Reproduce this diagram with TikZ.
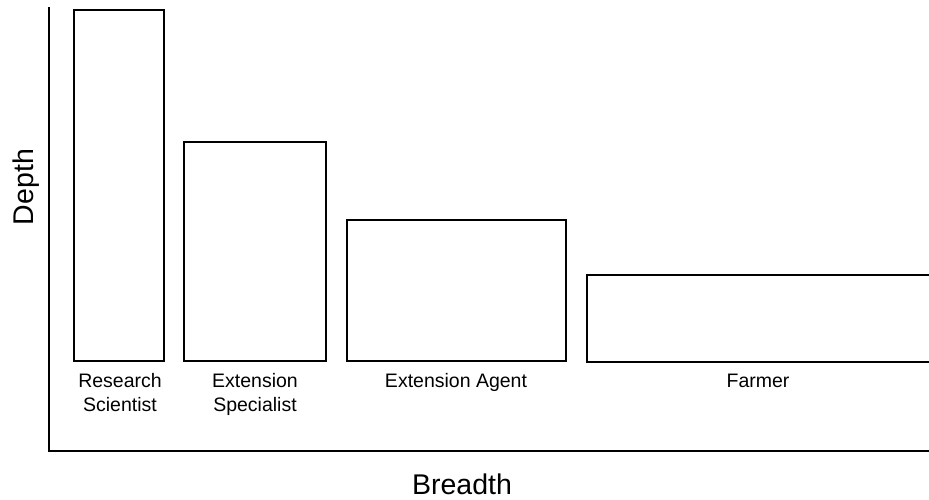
\documentclass[tikz,border=0pt]{standalone}
\usepackage{fontspec}
\setmainfont{Liberation Sans}
\begin{document}
\begin{tikzpicture}[x=1pt,y=-1pt,
  bar/.style={draw=black, line width=1.5pt},
  axis/.style={draw=black, line width=2.8pt},
  barlabel/.style={font=\fontsize{19.5}{24}\selectfont, inner sep=0pt, anchor=base},
  axislabel/.style={font=\fontsize{28.5}{32}\selectfont, inner sep=0pt}]
  \useasboundingbox (0,0) rectangle (929,499);
  \begin{scope}
    \clip (0,0) rectangle (929,499);
    % bars
    \draw[bar] (74,10) rectangle (164,361);
    \draw[bar] (184,142) rectangle (326,361);
    \draw[bar] (347,220) rectangle (566,361);
    \draw[bar] (587,275) rectangle (935,362);
    % axes
    \coordinate (top) at (49,7);
    \coordinate (origin) at (49,451);
    \coordinate (right) at (929,451);
    \draw[axis] (top) -- (origin) -- (right);
  \end{scope}
  % bar labels
  \node[barlabel] (rs1) at (120,387) {Research};
  \node[barlabel] (rs2) at (120,411) {Scientist};
  \node[barlabel] (es1) at (255,387) {Extension};
  \node[barlabel] (es2) at (255,411) {Specialist};
  \node[barlabel] (ea) at (456,387) {Extension Agent};
  \node[barlabel] (fa) at (758,387) {Farmer};
  % axis labels
  \node[axislabel, rotate=90, anchor=base] (depth) at (33,187) {Depth};
  \node[axislabel, anchor=base] (breadth) at (462,494) {Breadth};
\end{tikzpicture}
\end{document}
